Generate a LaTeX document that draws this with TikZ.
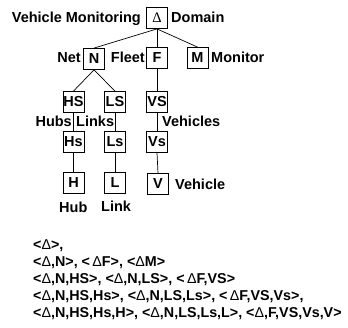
\documentclass[tikz,border=0pt]{standalone}
\usepackage{fontspec}
\setmainfont{Liberation Sans}
\newfontfamily\serifD{Liberation Serif}
\newcommand\dlt{{\mdseries Δ}}
\begin{document}
\begin{tikzpicture}[x=1pt,y=-1pt,
  box/.style={draw, line width=0.8pt, minimum width=21pt, minimum height=21pt, inner sep=0.5pt, font=\bfseries\fontsize{14.5}{17}\selectfont},
  lbl/.style={inner sep=0pt, font=\bfseries\fontsize{14.5}{17}\selectfont},
  lst/.style={inner sep=0pt, anchor=base west, font=\bfseries\fontsize{14.3}{17}\selectfont},
  conn/.style={line width=0.7pt}]
\useasboundingbox (0,0) rectangle (348,328);
% boxes
\node[box] (D) at (157,18) {\serifD\mdseries Δ};
\node[box] (N) at (94,59) {N};
\node[box] (F) at (157,58) {F};
\node[box] (M) at (197.5,58) {M};
\node[box] (HS) at (73.5,102) {HS};
\node[box] (LS) at (115,102) {LS};
\node[box] (VS) at (157,102) {VS};
\node[box] (Hs) at (73.5,142) {Hs};
\node[box] (Ls) at (115,142) {Ls};
\node[box] (Vs) at (157,142) {Vs};
\node[box] (H) at (73.5,183) {H};
\node[box] (L) at (115,183) {L};
\node[box] (V) at (158,184) {V};
% connectors
\draw[conn] (D.south) -- (N.north);
\draw[conn] (D.south) -- (F.north);
\draw[conn] (D.south) -- (M.north);
\draw[conn] (N.south) -- (HS.north);
\draw[conn] (N.south) -- (LS.north);
\draw[conn] (F.south) -- (VS.north);
\draw[conn] (HS.south) -- (Hs.north);
\draw[conn] (LS.south) -- (Ls.north);
\draw[conn] (VS.south) -- (Vs.north);
\draw[conn] (Hs.south) -- (H.north);
\draw[conn] (Ls.south) -- (L.north);
\draw[conn] (Vs.south) -- (V.north);
% labels
\node[lbl, anchor=base east] (tVM) at (141,23) {Vehicle Monitoring};
\node[lbl, anchor=base west] (tDom) at (171,23) {Domain};
\node[lbl, anchor=base east] (tNet) at (81,63) {Net};
\node[lbl, anchor=base east] (tFleet) at (145,63) {Fleet};
\node[lbl, anchor=base west] (tMon) at (211,63) {Monitor};
\node[lbl, anchor=base east] (tHubs) at (72,127) {Hubs};
\node[lbl, anchor=base west] (tLinks) at (76,127) {Links};
\node[lbl, anchor=base west] (tVehs) at (162,127) {Vehicles};
\node[lbl, anchor=base west] (tHub) at (59,213) {Hub};
\node[lbl, anchor=base west] (tLink) at (101,212) {Link};
\node[lbl, anchor=base west] (tVeh) at (175,190) {Vehicle};
% list
\node[lst] (l1) at (33,250) {<\dlt>,};
\node[lst] (l2) at (33,267) {<\dlt,N>, <\,\dlt F>, <\dlt M>};
\node[lst] (l3) at (33,284) {<\dlt,N,HS>, <\dlt,N,LS>, <\,\dlt F,VS>};
\node[lst] (l4) at (33,301) {<\dlt,N,HS,Hs>, <\dlt,N,LS,Ls>, <\,\dlt F,VS,Vs>,};
\node[lst] (l5) at (33,318) {<\dlt,N,HS,Hs,H>, <\dlt,N,LS,Ls,L>, <\dlt,F,VS,Vs,V>};
\end{tikzpicture}
\end{document}
